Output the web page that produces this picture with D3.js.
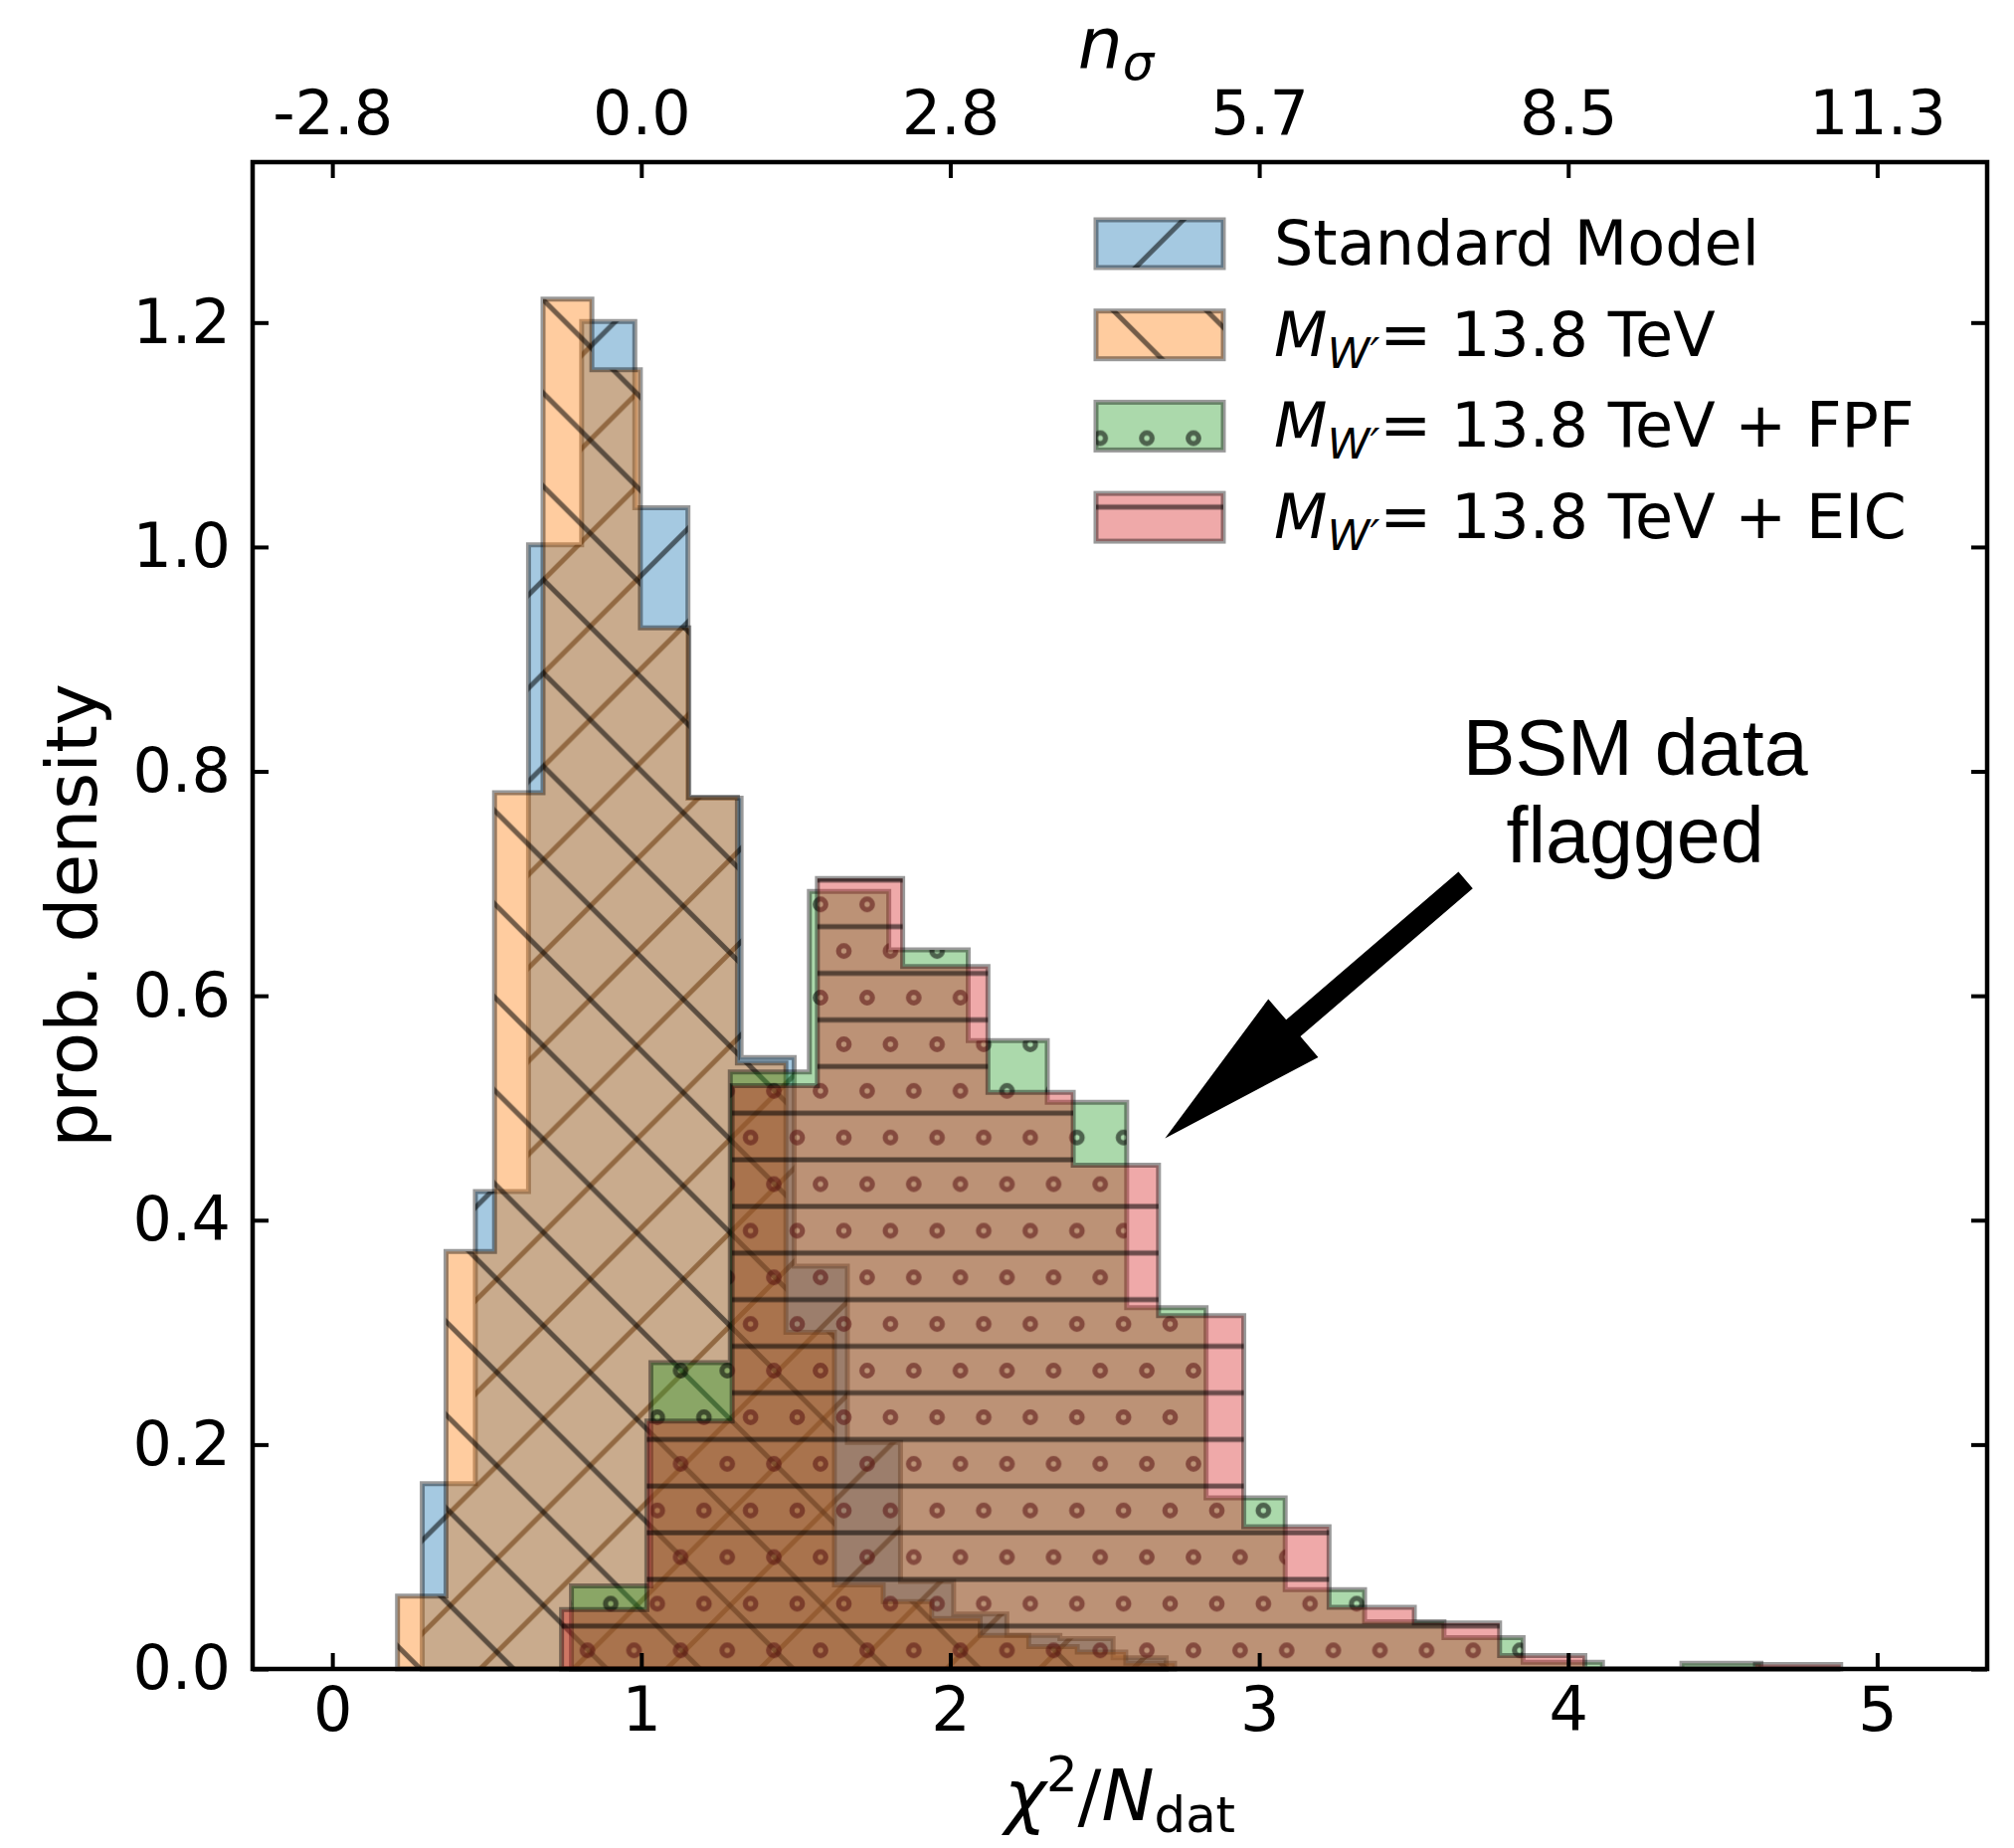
<!DOCTYPE html>
<html>
<head>
<meta charset="utf-8">
<script src="https://cdn.jsdelivr.net/npm/d3@7"></script>
<style>
  body { margin: 0; background: #fff; }
  svg { display: block; }
</style>
</head>
<body>
<svg id="chart" width="2025" height="1858"></svg>
<script>
// axis ticks
const xTicks = [0, 1, 2, 3, 4, 5];
const topTickLabels = ["-2.8", "0.0", "2.8", "5.7", "8.5", "11.3"];
const yTicks = [0, 0.2, 0.4, 0.6, 0.8, 1.0, 1.2];

// Standard Model histogram (bin edges, densities)
const smEdges = [0.291, 0.463, 0.635, 0.807, 0.979, 1.151, 1.323, 1.495, 1.667, 1.839, 2.011, 2.183, 2.355, 2.527, 2.699];
const smHeights = [0.165, 0.4255, 1.002, 1.201, 1.035, 0.776, 0.545, 0.359, 0.202, 0.078, 0.049, 0.03, 0.027, 0.01];

// M_W' = 13.8 TeV
const wpEdges = [0.211, 0.368, 0.525, 0.682, 0.840, 0.997, 1.154, 1.311, 1.468, 1.625, 1.783, 1.940, 2.097, 2.254, 2.411, 2.568, 2.726];
const wpHeights = [0.065, 0.372, 0.781, 1.221, 1.158, 0.928, 0.777, 0.540, 0.300, 0.075, 0.06, 0.045, 0.03, 0.02, 0.015, 0.005];

// M_W' = 13.8 TeV + FPF
const fpfEdges = [0.774, 1.031, 1.288, 1.544, 1.801, 2.058, 2.314, 2.571, 2.828, 3.084, 3.341, 3.598, 3.854, 4.111, 4.368, 4.624, 4.881];
const fpfHeights = [0.074, 0.273, 0.532, 0.693, 0.641, 0.560, 0.505, 0.322, 0.1525, 0.0706, 0.042, 0.028, 0.006, 0, 0.005, 0];

// M_W' = 13.8 TeV + EIC
const eicEdges = [0.742, 1.018, 1.294, 1.570, 1.846, 2.122, 2.398, 2.674, 2.950, 3.226, 3.502, 3.778, 4.054, 4.330, 4.606, 4.882];
const eicHeights = [0.053, 0.221, 0.52, 0.7045, 0.626, 0.514, 0.449, 0.315, 0.1268, 0.055, 0.041, 0.012, 0, 0, 0.004];

const legendLabels = ["Standard Model", "13.8 TeV", "13.8 TeV + FPF", "13.8 TeV + EIC"];

// annotation (data coords)
const noteLines = ["BSM data", "flagged"];
const noteAt = { x: 4.217, y: 0.797 };
const arrowFrom = { x: 3.668, y: 0.703 };
const arrowTo = { x: 2.695, y: 0.473 };

const svg = d3.select("#chart");
const margin = { top: 163, right: 27, bottom: 180, left: 254 };
const W = +svg.attr("width"), H = +svg.attr("height");
const font = "DejaVu Sans";

const x = d3.scaleLinear().domain([-0.258, 5.356]).range([margin.left, W - margin.right]);
const y = d3.scaleLinear().domain([0, 1.343]).range([H - margin.bottom, margin.top]);

// hatch patterns, anchored to the figure like matplotlib
const defs = svg.append("defs");
const hatchStroke = "rgba(0,0,0,0.55)";
const hatchW = 5;
const T = 93.75, t = T / 2;

defs.append("pattern").attr("id", "h-slash")
    .attr("patternUnits", "userSpaceOnUse").attr("width", T).attr("height", T)
    .attr("x", 0).attr("y", 4.5)
  .append("path")
    .attr("d", `M0,${T}L${T},0M${-t},${t}L${t},${-t}M${t},${T + t}L${T + t},${t}`)
    .attr("stroke", hatchStroke).attr("stroke-width", hatchW).attr("fill", "none");

defs.append("pattern").attr("id", "h-back")
    .attr("patternUnits", "userSpaceOnUse").attr("width", T).attr("height", T)
    .attr("x", 0).attr("y", 36.5)
  .append("path")
    .attr("d", `M0,0L${T},${T}M${-t},${t}L${t},${T + t}M${t},${-t}L${T + t},${t}`)
    .attr("stroke", hatchStroke).attr("stroke-width", hatchW).attr("fill", "none");

const dots = defs.append("pattern").attr("id", "h-dots")
    .attr("patternUnits", "userSpaceOnUse").attr("width", t).attr("height", T)
    .attr("x", 825).attr("y", 909.3);
[[0, 0], [t, 0], [0, T], [t, T], [t / 2, t]].forEach(p => {
  dots.append("circle").attr("cx", p[0]).attr("cy", p[1]).attr("r", 5.3)
      .attr("fill", "none").attr("stroke", hatchStroke).attr("stroke-width", 5.2);
});

defs.append("pattern").attr("id", "h-line")
    .attr("patternUnits", "userSpaceOnUse").attr("width", t).attr("height", t)
    .attr("x", 0).attr("y", 931.67)
  .append("path")
    .attr("d", `M0,0H${t}M0,${t}H${t}`)
    .attr("stroke", hatchStroke).attr("stroke-width", hatchW).attr("fill", "none");

const series = [
  { edges: smEdges, heights: smHeights, color: "#1f77b4", hatch: "h-slash" },
  { edges: wpEdges, heights: wpHeights, color: "#ff7f0e", hatch: "h-back" },
  { edges: fpfEdges, heights: fpfHeights, color: "#2ca02c", hatch: "h-dots" },
  { edges: eicEdges, heights: eicHeights, color: "#d62728", hatch: "h-line" }
];

const line = d3.line();
function stepPoints(s) {
  const pts = [[x(s.edges[0]), y(0)]];
  s.heights.forEach((h, i) => {
    pts.push([x(s.edges[i]), y(h)]);
    pts.push([x(s.edges[i + 1]), y(h)]);
  });
  pts.push([x(s.edges[s.edges.length - 1]), y(0)]);
  return pts;
}

const plot = svg.append("g");
series.forEach(s => {
  const d = line(stepPoints(s)) + "Z";
  const g = plot.append("g");
  g.append("path").attr("d", d).attr("fill", s.color).attr("fill-opacity", 0.4);
  g.append("path").attr("d", d).attr("fill", `url(#${s.hatch})`);
  g.append("path").attr("d", d).attr("fill", "none")
      .attr("stroke", "#000").attr("stroke-opacity", 0.4).attr("stroke-width", 5)
      .attr("stroke-linejoin", "miter");
});

// axes (ticks pointing in, on all four sides)
const tickLen = 16, fs = 62;
const axisBottom = svg.append("g").attr("transform", `translate(0,${y(0)})`)
    .call(d3.axisBottom(x).tickValues(xTicks).tickSize(-tickLen).tickPadding(18).tickFormat(d3.format("d")));
const axisTop = svg.append("g").attr("transform", `translate(0,${margin.top})`)
    .call(d3.axisTop(x).tickValues(xTicks).tickSize(-tickLen).tickPadding(28).tickFormat((d, i) => topTickLabels[i]));
const axisLeft = svg.append("g").attr("transform", `translate(${margin.left},0)`)
    .call(d3.axisLeft(y).tickValues(yTicks).tickSize(-tickLen).tickPadding(22).tickFormat(d3.format(".1f")));
const axisRight = svg.append("g").attr("transform", `translate(${W - margin.right},0)`)
    .call(d3.axisRight(y).tickValues(yTicks).tickSize(-tickLen).tickFormat(""));

[axisBottom, axisTop, axisLeft, axisRight].forEach(a => {
  a.select(".domain").remove();
  a.selectAll(".tick line").attr("stroke", "#000").attr("stroke-width", 4);
  a.selectAll(".tick text").attr("font-size", fs).attr("font-family", font).attr("fill", "#000");
});

svg.append("rect")
    .attr("x", margin.left).attr("y", margin.top)
    .attr("width", W - margin.left - margin.right).attr("height", H - margin.top - margin.bottom)
    .attr("fill", "none").attr("stroke", "#000").attr("stroke-width", 4.5);

// axis labels
const lfs = 71;
const xl = svg.append("text").attr("x", (margin.left + W - margin.right) / 2).attr("y", 1830)
    .attr("text-anchor", "middle").attr("font-size", lfs).attr("font-family", font);
xl.append("tspan").attr("font-style", "italic").text("χ");
xl.append("tspan").attr("font-size", lfs * 0.7).attr("dy", -29).text("2");
xl.append("tspan").attr("dy", 29).text("/");
xl.append("tspan").attr("font-style", "italic").text("N");
xl.append("tspan").attr("font-size", lfs * 0.7).attr("dy", 12).text("dat");

const tl = svg.append("text").attr("x", 1122).attr("y", 68)
    .attr("text-anchor", "middle").attr("font-size", lfs).attr("font-family", font);
tl.append("tspan").attr("font-style", "italic").text("n");
tl.append("tspan").attr("font-style", "italic").attr("font-size", lfs * 0.7).attr("dy", 12).text("σ");

svg.append("text")
    .attr("transform", `translate(97,${(margin.top + H - margin.bottom) / 2}) rotate(-90)`)
    .attr("text-anchor", "middle").attr("font-size", lfs).attr("font-family", font).text("prob. density");

// legend
const legend = svg.append("g");
series.forEach((s, i) => {
  const ly = 221 + i * 91.7;
  legend.append("rect").attr("x", 1102).attr("y", ly).attr("width", 128).attr("height", 48)
      .attr("fill", s.color).attr("fill-opacity", 0.4);
  legend.append("rect").attr("x", 1102).attr("y", ly).attr("width", 128).attr("height", 48)
      .attr("fill", `url(#${s.hatch})`);
  legend.append("rect").attr("x", 1102).attr("y", ly).attr("width", 128).attr("height", 48)
      .attr("fill", "none").attr("stroke", "#000").attr("stroke-opacity", 0.4).attr("stroke-width", 5);
  const tx = legend.append("text").attr("x", 1281).attr("y", ly + 45)
      .attr("font-size", fs).attr("font-family", font);
  if (i === 0) {
    tx.text(legendLabels[i]);
  } else {
    tx.append("tspan").attr("font-style", "italic").text("M");
    tx.append("tspan").attr("font-style", "italic").attr("font-size", fs * 0.7).attr("dy", 12).text("W′");
    tx.append("tspan").attr("dy", -12).text("= " + legendLabels[i]);
  }
});

// annotation
noteLines.forEach((t, i) => {
  svg.append("text").attr("x", x(noteAt.x)).attr("y", y(noteAt.y) + i * 88)
      .attr("text-anchor", "middle").attr("font-family", "Liberation Sans, Arial, sans-serif")
      .attr("font-size", 79).text(t);
});

function arrowPts(x1, y1, x2, y2, sw, hw, hl) {
  const L = Math.hypot(x2 - x1, y2 - y1), ux = (x2 - x1) / L, uy = (y2 - y1) / L, px = -uy, py = ux;
  const bx = x2 - ux * hl, by = y2 - uy * hl;
  return [
    [x1 + px * sw / 2, y1 + py * sw / 2], [bx + px * sw / 2, by + py * sw / 2],
    [bx + px * hw / 2, by + py * hw / 2], [x2, y2],
    [bx - px * hw / 2, by - py * hw / 2], [bx - px * sw / 2, by - py * sw / 2],
    [x1 - px * sw / 2, y1 - py * sw / 2]
  ];
}
svg.append("path")
    .attr("d", line(arrowPts(x(arrowFrom.x), y(arrowFrom.y), x(arrowTo.x), y(arrowTo.y), 22, 77, 170)) + "Z")
    .attr("fill", "#000");
</script>
</body>
</html>
